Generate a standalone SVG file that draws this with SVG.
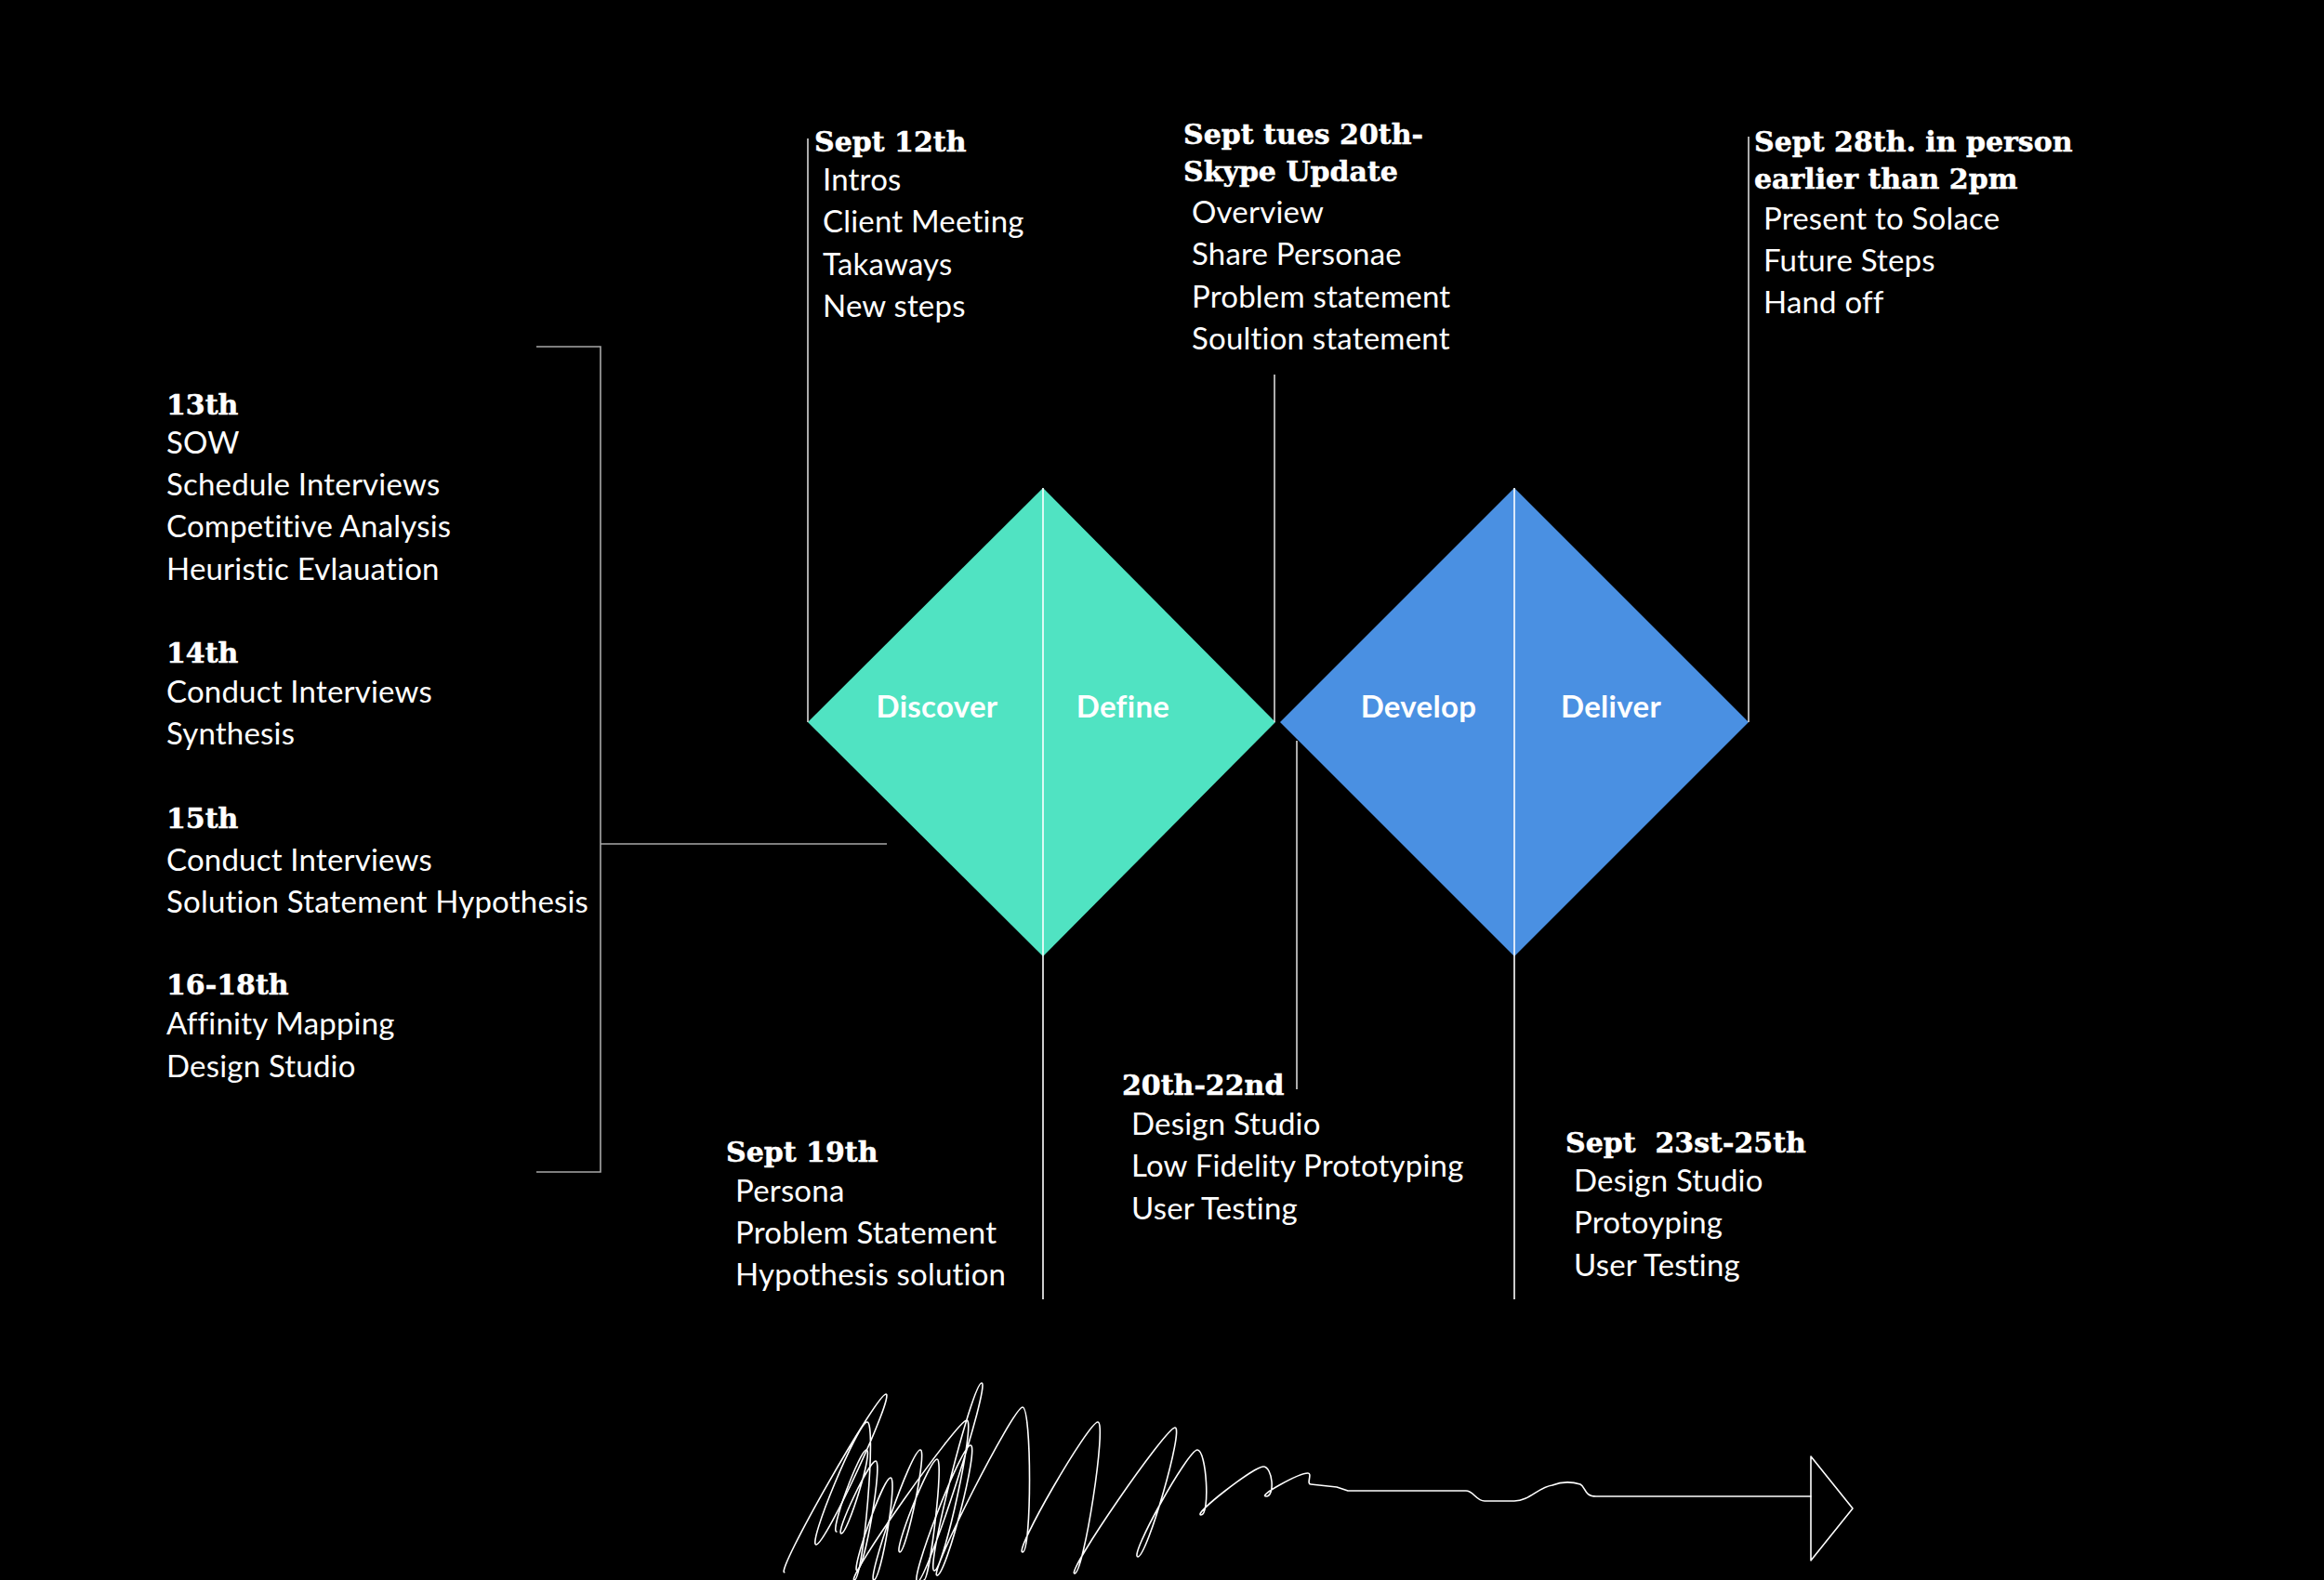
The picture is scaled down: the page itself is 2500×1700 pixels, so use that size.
<svg xmlns="http://www.w3.org/2000/svg" width="2500" height="1700" viewBox="0 0 2500 1700">
<defs>
<style>
.bg{fill:#000}
.h{font-family:"DejaVu Serif","Liberation Serif",serif;font-weight:bold;font-size:30px;fill:#fff;stroke:#fff;stroke-width:0.5px;white-space:pre}
.b{font-family:Lato,"Open Sans",sans-serif;font-size:33px;fill:#fff;letter-spacing:0.2px}
.lbl{font-family:Lato,"Open Sans",sans-serif;font-weight:bold;font-size:33px;fill:#fff;text-anchor:middle;letter-spacing:0.3px}
.ln{stroke:#d9d9d9;stroke-width:1.6;fill:none}
.br{stroke:#a8a8a8;stroke-width:1.6;fill:none}
.wl{stroke:#fff;stroke-width:1.6;fill:none}
.scr{stroke:#fff;stroke-width:1.6;fill:none;stroke-linejoin:round;stroke-linecap:round}
</style>
</defs>
<rect class="bg" x="0" y="0" width="2500" height="1700"/>

<g id="diamond-discover-define">
<polygon points="869,777 1122,525 1372,777 1122,1029" fill="#50E3C2"/>
<text class="lbl" x="1008" y="772">Discover</text>
<text class="lbl" x="1208" y="772">Define</text>
</g>
<g id="diamond-develop-deliver">
<polygon points="1377,777 1629,525 1881,777 1629,1029" fill="#4A90E2"/>
<text class="lbl" x="1526" y="772">Develop</text>
<text class="lbl" x="1733" y="772">Deliver</text>
</g>

<g id="connectors">
<line class="wl" x1="1122" y1="525" x2="1122" y2="1398"/>
<line class="wl" x1="1629" y1="525" x2="1629" y2="1398"/>
<line class="ln" x1="869" y1="149" x2="869" y2="777"/>
<line class="ln" x1="1371" y1="403" x2="1371" y2="777"/>
<line class="ln" x1="1881" y1="147" x2="1881" y2="777"/>
<line class="ln" x1="1395" y1="797" x2="1395" y2="1172"/>
<polyline class="br" points="577,373 646,373 646,1261 577,1261"/>
<line class="br" x1="646" y1="908" x2="954" y2="908"/>
</g>

<g id="left-schedule">
<text class="h" x="179" y="446">13th</text>
<text class="b" x="179" y="488">SOW</text>
<text class="b" x="179" y="533">Schedule Interviews</text>
<text class="b" x="179" y="578">Competitive Analysis</text>
<text class="b" x="179" y="624">Heuristic Evlauation</text>
<text class="h" x="179" y="713">14th</text>
<text class="b" x="179" y="756">Conduct Interviews</text>
<text class="b" x="179" y="801">Synthesis</text>
<text class="h" x="179" y="891">15th</text>
<text class="b" x="179" y="937">Conduct Interviews</text>
<text class="b" x="179" y="982">Solution Statement Hypothesis</text>
<text class="h" x="179" y="1070">16-18th</text>
<text class="b" x="179" y="1113">Affinity Mapping</text>
<text class="b" x="179" y="1159">Design Studio</text>
</g>

<g id="sept-12th">
<text class="h" x="876" y="163">Sept 12th</text>
<text class="b" x="885" y="205">Intros</text>
<text class="b" x="885" y="250">Client Meeting</text>
<text class="b" x="885" y="296">Takaways</text>
<text class="b" x="885" y="341">New steps</text>
</g>

<g id="sept-20th-skype">
<text class="h" x="1273" y="155">Sept tues 20th-</text>
<text class="h" x="1273" y="195">Skype Update</text>
<text class="b" x="1282" y="240">Overview</text>
<text class="b" x="1282" y="285">Share Personae</text>
<text class="b" x="1282" y="331">Problem statement</text>
<text class="b" x="1282" y="376">Soultion statement</text>
</g>

<g id="sept-28th">
<text class="h" x="1887" y="163">Sept 28th. in person</text>
<text class="h" x="1887" y="203">earlier than 2pm</text>
<text class="b" x="1897" y="247">Present to Solace</text>
<text class="b" x="1897" y="292">Future Steps</text>
<text class="b" x="1897" y="337">Hand off</text>
</g>

<g id="sept-19th">
<text class="h" x="781" y="1250">Sept 19th</text>
<text class="b" x="791" y="1293">Persona</text>
<text class="b" x="791" y="1338">Problem Statement</text>
<text class="b" x="791" y="1383">Hypothesis solution</text>
</g>

<g id="sept-20-22nd">
<text class="h" x="1207" y="1178">20th-22nd</text>
<text class="b" x="1217" y="1221">Design Studio</text>
<text class="b" x="1217" y="1266">Low Fidelity Prototyping</text>
<text class="b" x="1217" y="1312">User Testing</text>
</g>

<g id="sept-23-25th">
<text class="h" x="1684" y="1240">Sept  23st-25th</text>
<text class="b" x="1693" y="1282">Design Studio</text>
<text class="b" x="1693" y="1327">Protoyping</text>
<text class="b" x="1693" y="1373">User Testing</text>
</g>

<g id="scribble-arrow">
<path class="scr" d="M843.8,1691.7 C833.8,1691.7 943,1500 953,1500 C963,1500 888,1662 878,1662 C868,1662 923,1530 933,1530 C943,1530 929,1700 919,1700 C909,1700 1030,1528 1040,1528 C1050,1528 1015,1690 1005,1690 C995,1690 1046,1488 1056,1488 C1066,1488 997,1702 987,1702 C977,1702 1034,1555 1044,1555 C1054,1555 1018,1695 1008,1695 C998,1695 1090,1514 1100,1514 C1110,1514 1110,1670 1100,1670 C1090,1670 1171,1530 1181,1530 C1191,1530 1166,1693 1156,1693 C1146,1693 1254,1536 1264,1536 C1274,1536 1234,1675 1224,1675 C1214,1675 1278,1560 1288,1560 C1298,1560 1302,1630 1292,1630 C1282,1630 1349,1578 1359,1578 C1369,1578 1372,1610 1362,1610 C1352,1610 1397,1585 1407,1585 C1412,1585 1405,1597 1410,1597 L1438,1600 L1450,1604 L1577,1604 C1585,1604 1588,1615 1597,1615 L1629,1615 C1645,1615 1655,1600 1670,1598 C1680,1594 1690,1594 1700,1597 C1706,1600 1704,1610 1717,1610 L1948,1610"/>
<path class="scr" d="M900,1648 C892,1648 925,1560 932,1560 C940,1560 912,1650 905,1650 C898,1650 935,1572 942,1572 C950,1572 930,1690 922,1690 C915,1690 950,1590 958,1590 C966,1590 948,1700 940,1700 C932,1700 980,1560 990,1560 C998,1560 975,1670 968,1670 C960,1670 1000,1570 1008,1570 C1016,1570 1000,1700 994,1700"/>
<polygon class="scr" points="1948,1567 1993,1623 1948,1679"/>
</g>
</svg>
